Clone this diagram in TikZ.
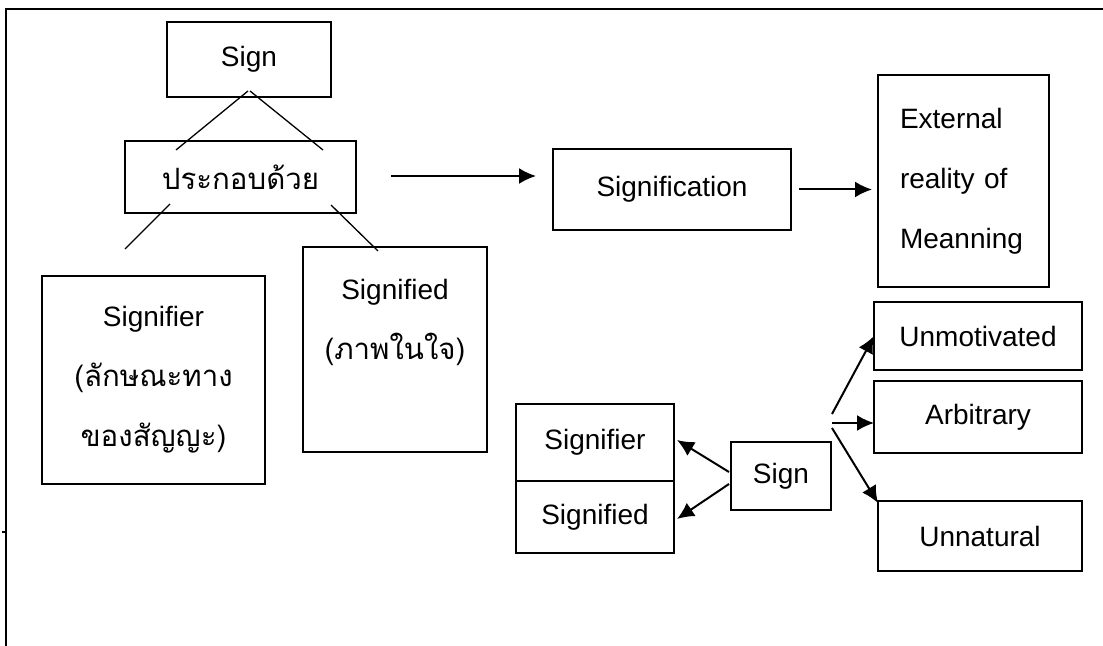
\documentclass[tikz,border=0pt]{standalone}
\usepackage{fontspec}
\setmainfont{Liberation Sans}
\newfontfamily\thaifont[Script=Thai,Scale=1.05]{Loma}
\usepackage{tikz}
\usetikzlibrary{calc}
\usetikzlibrary{arrows.meta}
\usetikzlibrary{positioning}
\tikzset{>={Latex[length=8.5pt,width=8pt]}}
\tikzstyle{box} = [rectangle, draw, line width=1pt, inner sep=0, outer sep=0, font=\fontsize{14}{30}\selectfont, align=center]
\tikzstyle{stem} = [-, line width=0.65pt]
\tikzstyle{arr} = [->, line width=1pt]

\begin{document}
\begin{tikzpicture}[x=0.5pt, y=-0.5pt]
\useasboundingbox (0,0) rectangle (1103,646);
% frame
\draw [line width=1pt] (6,646) -- (6,9) -- (1103,9);
\draw [line width=0.6pt] (2,532) -- (6,532);

% tree on the left
\node [box, minimum width=82pt, minimum height=37.5pt] (sign) at (249,59.5) {Sign};
\node [box, minimum width=115.5pt, minimum height=36pt] (consist) at (240.5,177) {\thaifont ประกอบด้วย};
\node [box, minimum width=111.5pt, minimum height=104pt] (signifier) at (153.5,380) {Signifier\\{\thaifont(ลักษณะทาง}\\{\thaifont ของสัญญะ)}};
\node [box, minimum width=92pt, minimum height=102.5pt] (signified) at (395,349.5) {Signified\\{\thaifont(ภาพในใจ)}\\\mbox{}};

\coordinate (s1) at ($(sign.south)+(-1,-6)$);
\coordinate (s2) at ($(sign.south)+(1,-6)$);
\coordinate (c1) at ($(consist.north)+(-64.5,9)$);
\coordinate (c2) at ($(consist.north)+(82.5,9)$);
\coordinate (c3) at ($(consist.south)+(-70.5,-9)$);
\coordinate (c4) at ($(consist.south)+(90.5,-8)$);
\coordinate (f1) at ($(signifier.north)+(-28.5,-27)$);
\coordinate (f2) at ($(signified.north)+(-17,4)$);
\draw [stem] (s1) -- (c1);
\draw [stem] (s2) -- (c2);
\draw [stem] (c3) -- (f1);
\draw [stem] (c4) -- (f2);

% chain to the right
\node [box, minimum width=119pt, minimum height=40.5pt] (signification) at (672,189.5) {Signification};
\node [box, minimum width=85.5pt, minimum height=106pt, text width=63.5pt, align=left] (external) at (963.5,181) {External\\reality of\\Meanning};
\draw [arr] ([xshift=17.5pt]consist.east |- 0,176) -- ([xshift=-8.5pt]signification.west |- 0,176);
\draw [arr] ([xshift=4pt]signification.east) -- ([xshift=-3pt]external.west |- signification.east);

% small sign diagram
\node [box, minimum width=50pt, minimum height=34pt] (sign2) at (781,476) {Sign};
\node [box, minimum width=79pt, minimum height=38.5pt] (sr) at (595,442.5) {Signifier};
\node [box, minimum width=79pt, minimum height=36pt, anchor=north] (sd) at (sr.south) {Signified};
\node [box, minimum width=104pt, minimum height=34pt] (unmot) at (978,336) {Unmotivated};
\node [box, minimum width=104pt, minimum height=36pt] (arb) at (978,417) {Arbitrary};
\node [box, minimum width=102pt, minimum height=35pt] (unnat) at (980,536) {Unnatural};

\draw [arr] ($(sign2.west)+(-2,-4)$) -- ($(sr.east)+(3,-2.5)$);
\draw [arr] ($(sign2.west)+(-2,8)$) -- ($(sd.east)+(3,2)$);
\coordinate (fork) at ($(sign2.east)+(1,-53)$);
\draw [arr] ($(fork)+(0,-9)$) -- (unmot.west);
\draw [arr] (fork) -- ($(arb.west)+(0,6)$);
\draw [arr] ($(fork)+(0,5)$) -- ($(unnat.north west)+(0,2)$);
\end{tikzpicture}
\end{document}
